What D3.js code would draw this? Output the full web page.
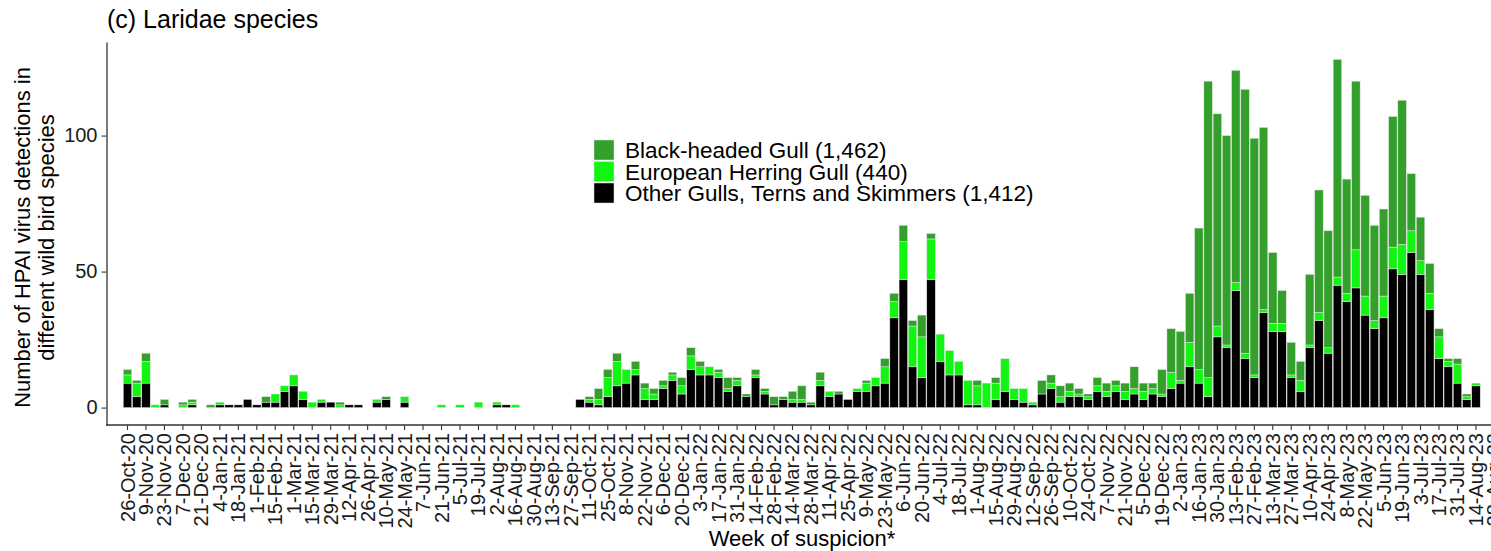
<!DOCTYPE html>
<html>
<head>
<meta charset="utf-8">
<script src="https://cdn.jsdelivr.net/npm/d3@7"></script>
<style>
  body { margin: 0; background: #fff; }
  svg { display: block; font-family: "Liberation Sans", Arial, sans-serif; }
</style>
</head>
<body>
<div id="chart"></div>
<script>
/* Tick labels, one every second week, starting at week 0 (26-Oct-20) */
const weekLabels = [
  '26-Oct-20', '9-Nov-20', '23-Nov-20', '7-Dec-20', '21-Dec-20', '4-Jan-21', '18-Jan-21',
  '1-Feb-21', '15-Feb-21', '1-Mar-21', '15-Mar-21', '29-Mar-21', '12-Apr-21', '26-Apr-21',
  '10-May-21', '24-May-21', '7-Jun-21', '21-Jun-21', '5-Jul-21', '19-Jul-21', '2-Aug-21',
  '16-Aug-21', '30-Aug-21', '13-Sep-21', '27-Sep-21', '11-Oct-21', '25-Oct-21', '8-Nov-21',
  '22-Nov-21', '6-Dec-21', '20-Dec-21', '3-Jan-22', '17-Jan-22', '31-Jan-22', '14-Feb-22',
  '28-Feb-22', '14-Mar-22', '28-Mar-22', '11-Apr-22', '25-Apr-22', '9-May-22', '23-May-22',
  '6-Jun-22', '20-Jun-22', '4-Jul-22', '18-Jul-22', '1-Aug-22', '15-Aug-22', '29-Aug-22',
  '12-Sep-22', '26-Sep-22', '10-Oct-22', '24-Oct-22', '7-Nov-22', '21-Nov-22', '5-Dec-22',
  '19-Dec-22', '2-Jan-23', '16-Jan-23', '30-Jan-23', '13-Feb-23', '27-Feb-23', '13-Mar-23',
  '27-Mar-23', '10-Apr-23', '24-Apr-23', '8-May-23', '22-May-23', '5-Jun-23', '19-Jun-23',
  '3-Jul-23', '17-Jul-23', '31-Jul-23', '14-Aug-23', '28-Aug-23',
];

// Weekly counts, week 0 = 26-Oct-20
const otherGulls = [
  9, 4, 9, 0, 1, 0, 0, 1, 0, 0, 1, 1, 1, 3, 1, 2, 2, 6, 8, 3, 0, 2, 2, 0, 1, 1, 0, 2, 3, 0,
  2, 0, 0, 0, 0, 0, 0, 0, 0, 0, 1, 1, 0, 0, 0, 0, 0, 0, 0, 3, 2, 1, 4, 8, 9, 12, 3, 3, 7, 10,
  5, 14, 12, 12, 11, 6, 8, 4, 11, 5, 1, 3, 2, 2, 1, 8, 4, 5, 3, 6, 6, 8, 9, 33, 47, 15, 11, 47, 17, 12,
  12, 1, 1, 0, 3, 6, 3, 2, 1, 5, 7, 2, 4, 4, 3, 6, 4, 6, 3, 5, 3, 5, 4, 7, 9, 15, 9, 4, 26, 22,
  43, 18, 11, 35, 28, 28, 11, 6, 22, 32, 20, 45, 39, 44, 34, 29, 33, 51, 49, 57, 49, 36, 18, 15, 9, 3,
  8,
];
const herringGull = [
  3, 5, 8, 1, 0, 0, 1, 1, 0, 0, 1, 0, 0, 0, 0, 0, 3, 2, 4, 3, 2, 1, 0, 1, 0, 0, 0, 1, 0, 0,
  2, 0, 0, 0, 1, 0, 1, 0, 2, 0, 1, 0, 1, 0, 0, 0, 0, 0, 0, 0, 1, 2, 7, 9, 5, 2, 4, 2, 1, 2,
  3, 5, 3, 3, 2, 1, 2, 0, 1, 1, 0, 0, 1, 1, 0, 2, 2, 0, 0, 1, 3, 3, 6, 6, 14, 15, 15, 15, 10, 9,
  5, 9, 7, 9, 6, 12, 4, 5, 1, 0, 2, 2, 2, 1, 1, 2, 2, 2, 3, 2, 3, 2, 1, 6, 1, 9, 5, 7, 4, 1,
  3, 2, 1, 1, 3, 3, 1, 4, 1, 3, 2, 3, 3, 14, 7, 3, 8, 8, 11, 8, 5, 6, 8, 2, 7, 1,
  1,
];
const blackHeadedGull = [
  2, 1, 3, 0, 2, 0, 1, 1, 0, 1, 0, 0, 0, 0, 0, 2, 0, 0, 0, 0, 0, 0, 0, 1, 0, 0, 0, 0, 1, 0,
  0, 0, 0, 0, 0, 0, 0, 0, 0, 0, 0, 0, 0, 0, 0, 0, 0, 0, 0, 0, 1, 4, 3, 3, 0, 3, 2, 2, 2, 1,
  3, 3, 2, 0, 1, 4, 1, 1, 2, 1, 3, 1, 3, 5, 1, 3, 0, 1, 0, 0, 1, 0, 3, 3, 6, 2, 8, 2, 0, 0,
  0, 0, 2, 0, 2, 0, 0, 0, 0, 5, 3, 4, 3, 2, 1, 3, 3, 2, 3, 8, 3, 2, 9, 16, 18, 18, 52, 109, 78, 77,
  78, 97, 87, 67, 26, 12, 12, 7, 26, 45, 43, 80, 42, 62, 37, 35, 32, 48, 53, 21, 16, 11, 3, 1, 2, 1,
  0,
];

const seriesKeys = ['other', 'herring', 'blackHeaded'];
const seriesNames = [
  'Black-headed Gull (1,462)',
  'European Herring Gull (440)',
  'Other Gulls, Terns and Skimmers (1,412)',
];
const legendKeys = ['blackHeaded', 'herring', 'other'];
const colors = { blackHeaded: '#34a02c', herring: '#12f512', other: '#000000' };

const width = 1491, height = 551;
const nWeeks = weekLabels.length * 2 - 1; // 149 weeks on the axis
const step = 9.236;
const xStart = 127.5 - step / 2;

const svg = d3.select('#chart').append('svg')
  .attr('width', width)
  .attr('height', height);

const x = d3.scaleBand()
  .domain(d3.range(nWeeks))
  .range([xStart, xStart + nWeeks * step])
  .paddingInner(0.08)
  .paddingOuter(0.04);

const y = d3.scaleLinear().domain([-6.4, 134.4]).range([425, 42]);

const table = otherGulls.map((v, i) => ({
  week: i,
  other: v,
  herring: herringGull[i],
  blackHeaded: blackHeadedGull[i],
}));

const stacked = d3.stack().keys(seriesKeys)(table);

// Bars
svg.append('g')
  .selectAll('g')
  .data(stacked)
  .join('g')
  .attr('fill', (d) => colors[d.key])
  .selectAll('rect')
  .data((d) => d.filter((s) => s[1] - s[0] > 0))
  .join('rect')
  .attr('x', (d) => x(d.data.week))
  .attr('width', x.bandwidth())
  .attr('y', (d) => y(d[1]))
  .attr('height', (d) => y(d[0]) - y(d[1]))
  .attr('stroke', '#e4e4e4')
  .attr('stroke-width', 0.5);

const axisColor = '#333333';

// Y axis
const yAxis = svg.append('g')
  .attr('transform', 'translate(106.5,0)')
  .call(d3.axisLeft(y).tickValues([0, 50, 100]).tickSize(5).tickSizeOuter(0).tickPadding(4));
yAxis.select('.domain').attr('stroke', axisColor).attr('stroke-width', 1.3);
yAxis.selectAll('.tick line').attr('stroke', axisColor).attr('stroke-width', 1.1);
yAxis.selectAll('.tick text')
  .attr('fill', '#1a1a1a')
  .style('font-size', '20px')
  .style('font-family', '"Liberation Sans", Arial, sans-serif');

// X axis
const xAxis = svg.append('g')
  .attr('transform', 'translate(0,425)')
  .call(
    d3.axisBottom(x)
      .tickValues(d3.range(0, nWeeks, 2))
      .tickFormat((i) => weekLabels[i / 2])
      .tickSize(5)
      .tickSizeOuter(0)
  );
xAxis.select('.domain').remove();
xAxis.append('line')
  .attr('x1', 106).attr('x2', width)
  .attr('stroke', axisColor).attr('stroke-width', 1.3);
xAxis.selectAll('.tick line').attr('stroke', axisColor).attr('stroke-width', 1.1);
xAxis.selectAll('.tick text')
  .attr('fill', '#1a1a1a')
  .attr('transform', 'rotate(-90)')
  .attr('x', -8)
  .attr('y', 0)
  .attr('dy', '0.35em')
  .attr('text-anchor', 'end')
  .style('font-size', '20px')
  .style('font-family', '"Liberation Sans", Arial, sans-serif');

// Axis titles
svg.append('text')
  .attr('x', 802).attr('y', 546)
  .attr('text-anchor', 'middle')
  .style('font-size', '22px')
  .text('Week of suspicion*');

const yTitle = svg.append('text')
  .attr('transform', 'translate(0,237.5) rotate(-90)')
  .attr('text-anchor', 'middle')
  .style('font-size', '22px');
yTitle.append('tspan').attr('x', 0).attr('y', 30).text('Number of HPAI virus detections in');
yTitle.append('tspan').attr('x', 0).attr('y', 54).text('different wild bird species');

// Title
svg.append('text')
  .attr('x', 107).attr('y', 28)
  .style('font-size', '25px')
  .text('(c) Laridae species');

// Legend
const legend = svg.append('g').attr('transform', 'translate(594,140)');
const rows = legend.selectAll('g')
  .data(legendKeys)
  .join('g')
  .attr('transform', (d, i) => `translate(0,${i * 21.5})`);
rows.append('rect')
  .attr('width', 20).attr('height', 20)
  .attr('fill', (d) => colors[d])
  .attr('stroke', '#e4e4e4').attr('stroke-width', 0.5);
rows.append('text')
  .attr('x', 31).attr('y', 18)
  .style('font-size', '22.5px')
  .text((d, i) => seriesNames[i]);
</script>
</body>
</html>
